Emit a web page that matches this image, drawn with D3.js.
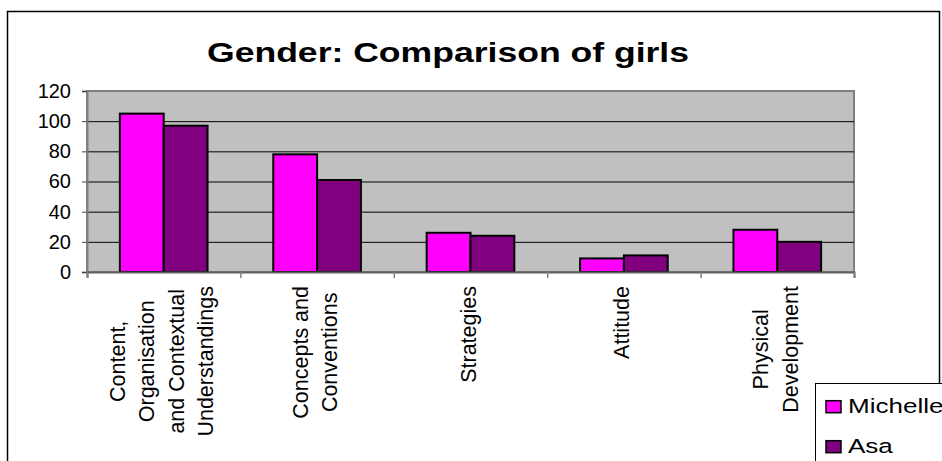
<!DOCTYPE html>
<html>
<head>
<meta charset="utf-8">
<script src="https://cdn.jsdelivr.net/npm/d3@7"></script>
<style>
  body { margin: 0; background: #fff; }
  svg { display: block; font-family: "Liberation Sans", Arial, sans-serif; }
</style>
</head>
<body>
<div id="chart"></div>
<script>
// data
var categories = ['Content, Organisation and Contextual Understandings', 'Concepts and Conventions', 'Strategies', 'Attitude', 'Physical Development']
var categoryLines = [
  ['Content,', 'Organisation', 'and Contextual', 'Understandings'],
  ['Concepts and', 'Conventions'],
  ['Strategies'],
  ['Attitude'],
  ['Physical', 'Development']
]
var seriesNames = ['Michelle', 'Asa']
var michelle = [105, 78, 26, 9, 28]
var asa = [97, 61, 24, 11, 20]
var yTicks = [0, 20, 40, 60, 80, 100, 120]
var colors = ['#ff00ff', '#800080']

var width = 942
var height = 461
var plot = { left: 87, right: 854, top: 91, bottom: 272 }

var svg = d3.select('#chart')
  .append('svg')
  .attr('width', width)
  .attr('height', height)

// outer chart border (runs off the bottom of the picture)
svg.append('rect')
  .attr('x', 7.5).attr('y', 11.5)
  .attr('width', 932).attr('height', 480)
  .attr('fill', '#fff')
  .attr('stroke', '#000')
  .attr('stroke-width', 1.5)

// title, drawn a bit wide like the original
svg.append('text')
  .attr('transform', 'translate(448,62) scale(1.27,1)')
  .attr('text-anchor', 'middle')
  .attr('font-size', 28)
  .attr('font-weight', 'bold')
  .text('Gender: Comparison of girls')

var y = d3.scaleLinear().domain([0, 120]).range([plot.bottom, plot.top])
var x0 = d3.scaleBand().domain(categories).range([plot.left, plot.right])
var gap = x0.bandwidth() * 0.75 / 3.5 // excel gap width 150%
var x1 = d3.scaleBand().domain(seriesNames).range([gap, x0.bandwidth() - gap])

// plot area
svg.append('rect')
  .attr('x', plot.left).attr('y', plot.top)
  .attr('width', plot.right - plot.left).attr('height', plot.bottom - plot.top)
  .attr('fill', '#c0c0c0')
  .attr('stroke', '#808080')
  .attr('stroke-width', 2)

// gridlines
svg.append('g')
  .attr('transform', `translate(${plot.left},0)`)
  .call(d3.axisLeft(y).tickValues(yTicks.filter(d => d > 0 && d < 120)).tickSize(-(plot.right - plot.left)).tickFormat(''))
  .call(g => g.select('.domain').remove())
  .selectAll('line')
  .attr('stroke', '#000')
  .attr('stroke-width', 1)

// bars
var groups = svg.append('g')
  .selectAll('g')
  .data(categories)
  .enter()
  .append('g')
  .attr('transform', d => `translate(${x0(d)},0)`)

groups.selectAll('rect')
  .data((d, i) => [{ key: 'Michelle', value: michelle[i] }, { key: 'Asa', value: asa[i] }])
  .enter()
  .append('rect')
  .attr('x', d => x1(d.key))
  .attr('y', d => y(d.value))
  .attr('width', x1.bandwidth())
  .attr('height', d => y(0) - y(d.value))
  .attr('fill', (d, i) => colors[i])
  .attr('stroke', '#000')
  .attr('stroke-width', 2)

// y axis
var yAxis = svg.append('g')
  .attr('transform', `translate(${plot.left},0)`)
  .call(d3.axisLeft(y).tickValues(yTicks).tickSize(5).tickPadding(11))
yAxis.select('.domain').attr('stroke', '#808080').attr('stroke-width', 2)
yAxis.selectAll('.tick line').attr('stroke', '#404040')
yAxis.selectAll('.tick text')
  .attr('font-size', 20)
  .attr('fill', '#000')
  .attr('font-family', '"Liberation Sans", Arial, sans-serif')

// x axis, ticks on category boundaries
var xb = d3.scaleLinear().domain([0, categories.length]).range([plot.left, plot.right])
var xAxis = svg.append('g')
  .attr('transform', `translate(0,${plot.bottom})`)
  .call(d3.axisBottom(xb).ticks(categories.length).tickSize(6).tickFormat(''))
xAxis.select('.domain').attr('stroke', '#606060').attr('stroke-width', 2)
xAxis.selectAll('.tick line').attr('stroke', '#808080').attr('stroke-width', 1.5)

// rotated category labels, centred lines, block hung from the axis
var lineGap = 29.5
categories.forEach(function (c, i) {
  var cx = x0(c) + x0.bandwidth() / 2
  var lines = categoryLines[i]
  var g = svg.append('g')
  var texts = lines.map(function (t, j) {
    return g.append('text')
      .attr('font-size', 21.5)
      .attr('text-anchor', 'middle')
      .text(t)
  })
  var maxW = d3.max(texts, t => t.node().getComputedTextLength())
  var cy = 286 + maxW / 2
  texts.forEach(function (t, j) {
    var bx = cx + (j - (lines.length - 1) / 2) * lineGap + 5.5
    t.attr('transform', `translate(${bx},${cy}) rotate(-90)`)
  })
})

// legend (box runs off the picture)
var legend = svg.append('g')
legend.append('rect')
  .attr('x', 815.5).attr('y', 383.5)
  .attr('width', 200).attr('height', 120)
  .attr('fill', '#fff')
  .attr('stroke', '#000')
  .attr('stroke-width', 1)

seriesNames.forEach(function (s, i) {
  var base = 412.7 + i * 40
  legend.append('rect')
    .attr('x', 826).attr('y', base - 12)
    .attr('width', 15).attr('height', 12)
    .attr('fill', colors[i])
    .attr('stroke', '#000')
    .attr('stroke-width', 1.5)
  legend.append('text')
    .attr('transform', `translate(848,${base}) scale(1.27,1)`)
    .attr('font-size', 20.5)
    .text(s)
})
</script>
</body>
</html>
